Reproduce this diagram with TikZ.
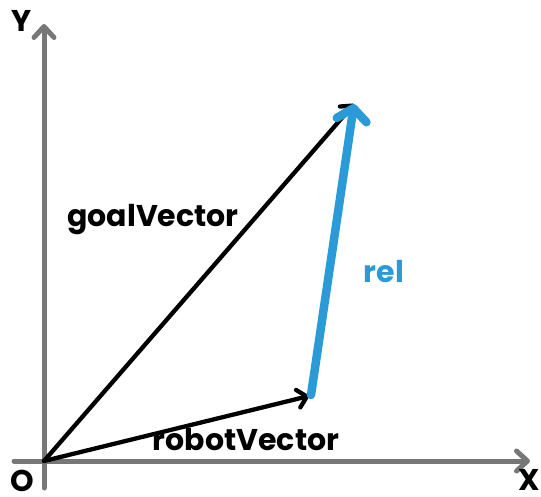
\documentclass[tikz,border=0pt]{standalone}
\usepackage{fontspec}
\setmainfont{Poppins}[BoldFont={* Bold}]
\usetikzlibrary{arrows.meta}
\definecolor{axisgray}{HTML}{777777}
\definecolor{relblue}{HTML}{2B9BD8}
\tikzset{
  axisline/.style={draw=axisgray, line width=5pt, line cap=round,
    -{Straight Barb[length=11pt, width=20pt, line cap=round, line join=round]}},
  vecline/.style={draw=black, line width=4.3pt, line cap=round,
    -{Straight Barb[length=9pt, width=18pt, line cap=round, line join=round]}},
  relline/.style={draw=relblue, line width=8.5pt, line cap=round,
    -{Straight Barb[length=12pt, width=30pt, line cap=round, line join=round]}},
  lbl/.style={font=\bfseries\fontsize{30}{30}\selectfont, inner sep=0pt},
}
\begin{document}
\begin{tikzpicture}[x=1pt, y=-1pt]
\useasboundingbox (0,0) rectangle (541,496);
\coordinate (O) at (44,461);
\coordinate (yb) at (44,488);
\coordinate (yt) at (44,24);
\coordinate (xl) at (14,461);
\coordinate (xr) at (530,461);
\coordinate (G) at (354,104);
\coordinate (R) at (309,396);
\coordinate (Rs) at (311,395);
\draw[axisline] (yb) -- (yt);
\draw[axisline] (xl) -- (xr);
\draw[vecline] (O) -- (G);
\draw[vecline] (O) -- (R);
\draw[relline] (Rs) -- (G);
\node[lbl] (ylab) at (22,21) {Y};
\node[lbl] (olab) at (22,481) {O};
\node[lbl] (xlab) at (529,480) {X};
\node[lbl] (goal) at (153,220) {goalVector};
\node[lbl, text=relblue] (rel) at (384,272) {rel};
\node[lbl] (robot) at (246,440) {robotVector};
\end{tikzpicture}
\end{document}
